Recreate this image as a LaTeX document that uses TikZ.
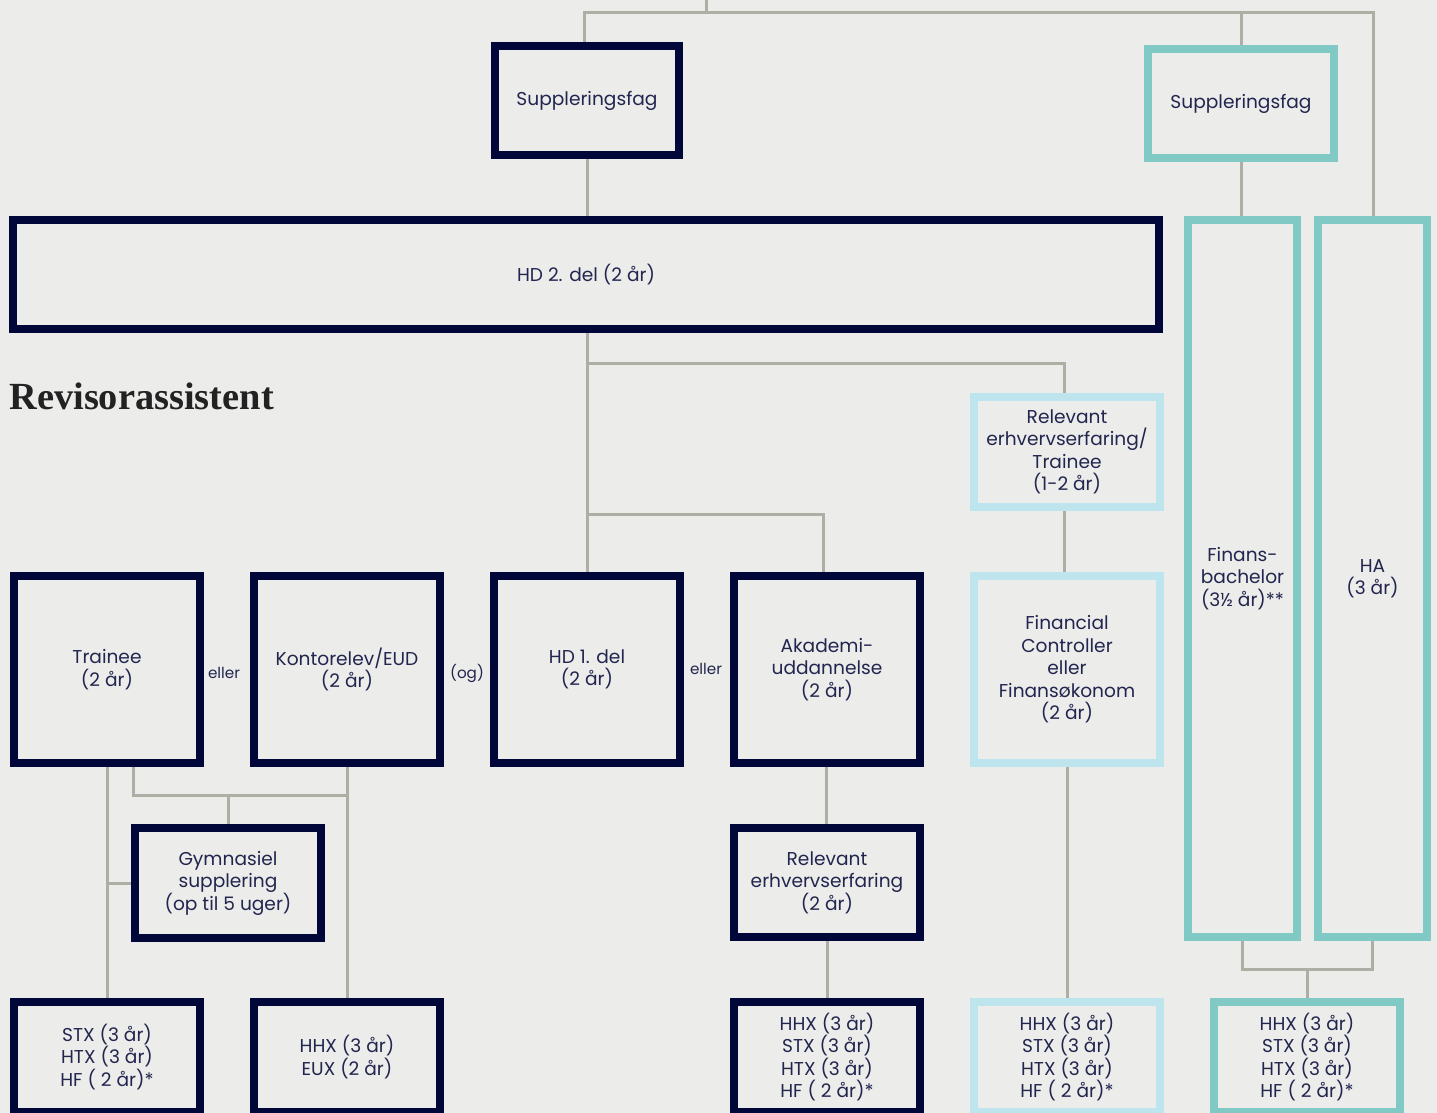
\documentclass[tikz,border=0pt]{standalone}
\usepackage{fontspec}
\setmainfont{Poppins}
\newfontfamily\titlefont{Liberation Serif}
\definecolor{bgc}{HTML}{ECECEA}
\definecolor{navy}{HTML}{02073A}
\definecolor{teal1}{HTML}{80C9C4}
\definecolor{light1}{HTML}{BEE4EE}
\definecolor{linec}{HTML}{AEAEA5}
\definecolor{txt}{HTML}{22264F}
\definecolor{titlec}{HTML}{222222}
\begin{document}
\begin{tikzpicture}[x=0.5pt,y=-0.5pt,
  box/.style={draw, line width=4pt, outer sep=2pt, inner sep=0pt, align=center, text=txt, font=\fontsize{9.3}{11.25}\selectfont},
  navybox/.style={box, draw=navy},
  tealbox/.style={box, draw=teal1},
  lightbox/.style={box, draw=light1},
  conn/.style={draw=linec, line width=1.5pt},
  lbl/.style={text=txt, font=\fontsize{7.6}{9}\selectfont, inner sep=0pt}]
\useasboundingbox (0,0) rectangle (1437,1113);
\fill[bgc] (0,0) rectangle (1437,1113);
\clip (0,0) rectangle (1437,1113);

% title
\node[anchor=base west, inner sep=0pt, text=titlec, font=\titlefont\bfseries\fontsize{19.2}{22}\selectfont] (title) at (9,409) {Revisorassistent};

% top row
\node[navybox, minimum width=92pt, minimum height=54.5pt] (suppL) at (587,100.5) {Suppleringsfag};
\node[tealbox, minimum width=93pt, minimum height=54.5pt] (suppR) at (1241,103.5) {Suppleringsfag};
\node[navybox, minimum width=573pt, minimum height=54.5pt] (hd2) at (586,274.5) {HD 2. del (2 år)};
\node[tealbox, minimum width=54.5pt, minimum height=358.5pt] (finb) at (1242.5,578.5) {Finans-\\bachelor\\(3½ år)**};
\node[tealbox, minimum width=54.5pt, minimum height=358.5pt] (ha) at (1372.5,578.5) {HA\\(3 år)};

% light blue column
\node[lightbox, minimum width=93pt, minimum height=55pt] (relT) at (1067,452) {Relevant\\erhvervserfaring/\\Trainee\\(1-2 år)};
\node[lightbox, minimum width=93pt, minimum height=93.5pt] (fincon) at (1067,669.5) {Financial\\Controller\\eller\\Finansøkonom\\(2 år)};

% middle row
\node[navybox, minimum width=93pt, minimum height=93.5pt] (trainee) at (107,669.5) {Trainee\\(2 år)};
\node[navybox, minimum width=93pt, minimum height=93.5pt] (kontor) at (347,669.5) {Kontorelev/EUD\\(2 år)};
\node[navybox, minimum width=93pt, minimum height=93.5pt] (hd1) at (587,669.5) {HD 1. del\\(2 år)};
\node[navybox, minimum width=93pt, minimum height=93.5pt] (akad) at (827,669.5) {Akademi-\\uddannelse\\(2 år)};

\node[lbl] (or1) at (224,673) {eller};
\node[lbl] (og1) at (467,673) {(og)};
\node[lbl] (or2) at (706,669) {eller};

% lower row
\node[navybox, minimum width=93pt, minimum height=55pt] (gym) at (228,883) {Gymnasiel\\supplering\\(op til 5 uger)};
\node[navybox, minimum width=93pt, minimum height=54.5pt] (relE) at (827,882.5) {Relevant\\erhvervserfaring\\(2 år)};

% bottom row
\node[navybox, minimum width=93pt, minimum height=55pt] (stx) at (107,1057) {STX (3 år)\\HTX (3 år)\\HF ( 2 år)*};
\node[navybox, minimum width=93pt, minimum height=55pt] (hhxeux) at (347,1057) {HHX (3 år)\\EUX (2 år)};
\node[navybox, minimum width=93pt, minimum height=55pt] (hhx1) at (827,1057) {HHX (3 år)\\STX (3 år)\\HTX (3 år)\\HF ( 2 år)*};
\node[lightbox, minimum width=93pt, minimum height=55pt] (hhx2) at (1067,1057) {HHX (3 år)\\STX (3 år)\\HTX (3 år)\\HF ( 2 år)*};
\node[tealbox, minimum width=93pt, minimum height=55pt] (hhx3) at (1307,1057) {HHX (3 år)\\STX (3 år)\\HTX (3 år)\\HF ( 2 år)*};

% connectors
\coordinate (top) at (706,-5);
\coordinate (b1) at (584,13);
\coordinate (b2) at (1373,13);
\draw[conn] (suppL.north -| b1) -- (b1) -- (b2) -- (ha.north -| b2);
\draw[conn] (top) -- (top |- b1);
\draw[conn] (suppR.north) -- (suppR.north |- b1);
\draw[conn] (suppR.south) -- (suppR.south |- finb.north);
\draw[conn] (suppL.south) -- (suppL.south |- hd2.north);
\draw[conn] (hd1.north |- hd2.south) -- (hd1.north);
\coordinate (j1) at (587,363);
\coordinate (j2) at (587,514);
\draw[conn] (j1) -| ([xshift=-1.5pt]relT.north);
\draw[conn] (j2) -| ([xshift=-2pt]akad.north);
\draw[conn] ([xshift=-1.5pt]relT.south) -- ([xshift=-1.5pt]fincon.north);
\draw[conn] (fincon.south) -- (hhx2.north);
\draw[conn] ([xshift=-0.5pt]akad.south) -- ([xshift=-0.5pt]relE.north);
\draw[conn] (relE.south) -- (hhx1.north);
\coordinate (j3) at (1307,969);
\draw[conn] (finb.south) |- (j3) -| (ha.south);
\draw[conn] (j3) -- (hhx3.north);
\draw[conn] (trainee.south) -- (stx.north);
\coordinate (j4) at (107,883);
\draw[conn] (j4) -- (gym.west);
\coordinate (j5) at (133,795);
\draw[conn] (trainee.south -| j5) -- (j5) -- (kontor.south |- j5);
\draw[conn] (gym.north) -- (gym.north |- j5);
\draw[conn] (kontor.south) -- (hhxeux.north);
\end{tikzpicture}
\end{document}
